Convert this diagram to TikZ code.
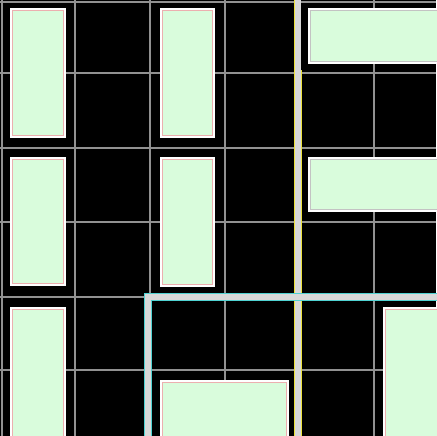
\documentclass[tikz,border=0pt]{standalone}
\begin{document}
\begin{tikzpicture}[x=1pt,y=-1pt]
\definecolor{tilegreen}{RGB}{217,252,220}
\definecolor{tilepink}{RGB}{236,175,175}
\definecolor{tilegray}{RGB}{195,195,195}
\definecolor{gridgray}{RGB}{145,145,145}
\definecolor{thickgray}{RGB}{216,216,216}
\definecolor{edgeyellow}{RGB}{235,225,60}
\definecolor{edgecyan}{RGB}{80,210,210}
\tikzset{
  gridline/.style={draw=gridgray,line width=2pt},
  thickline/.style={draw=thickgray,line width=6pt},
  tile/.style={fill=tilegreen,draw=white,line width=1.6pt},
  tileedge/.style={draw=tilepink,line width=1pt},
  tileedgegray/.style={draw=tilegray,line width=0.9pt},
  yedge/.style={draw=edgeyellow,line width=0.7pt}
}
\fill[black] (0,0) rectangle (436,436);
\useasboundingbox (0,0) rectangle (436,436);
% thin grid lines
\foreach \x in {2,75,150,225,374} \draw[gridline] (\x,0) -- (\x,436);
\foreach \y in {2,73,148,222,297,370} \draw[gridline] (0,\y) -- (436,\y);
% thick vertical line with yellow edges
\draw[thickline] (298,0) -- (298,436);
\draw[yedge] (294.8,0) -- (294.8,436);
\draw[yedge] (301.3,70) -- (301.3,436);
% selection frame with cyan edges
\draw[edgecyan,line width=8pt] (148,440) -- (148,297) -- (440,297);
\draw[thickgray,line width=6pt] (148,440) -- (148,297) -- (440,297);
\draw[yedge] (294.8,300.5) -- (294.8,436);
% tiles
\foreach \a/\b/\c/\d in {11/9/65/137, 161/9/214/137, 11/158/65/285, 161/158/214/286, 11/308/65/440, 161/381/288/440, 384/308/440/440} {
  \path[tile] (\a,\b) rectangle (\c,\d);
  \draw[tileedge] (\a+1.6,\b+1.6) rectangle (\c-1.6,\d-1.6);
}
\foreach \a/\b/\c/\d in {309/9/440/63, 309/158/440/211} {
  \path[tile] (\a,\b) rectangle (\c,\d);
  \draw[tileedgegray] (\a+1.6,\b+1.6) rectangle (\c-1.6,\d-1.6);
}
\end{tikzpicture}
\end{document}
